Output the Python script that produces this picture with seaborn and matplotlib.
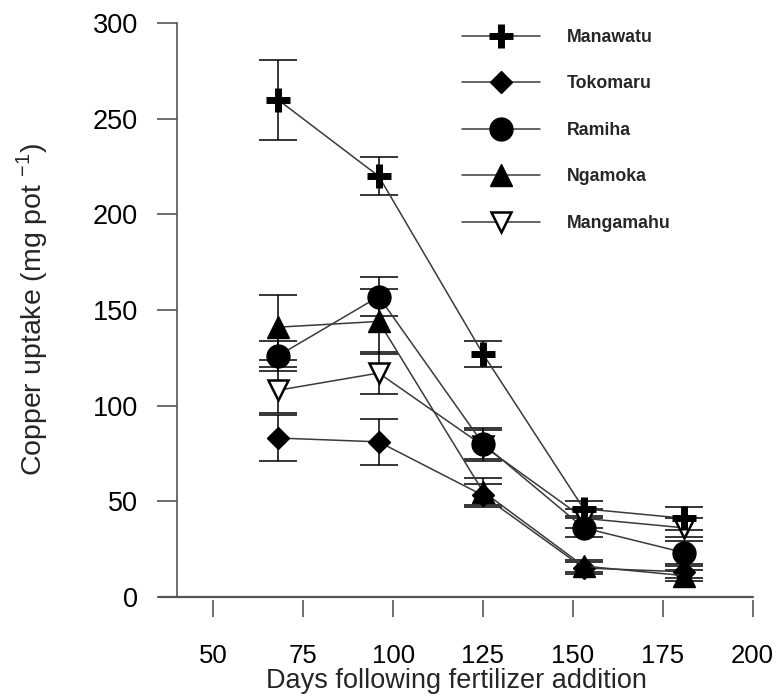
import matplotlib
matplotlib.use("Agg")
import matplotlib.pyplot as plt
import seaborn as sns
import pandas as pd

# Sampling days after fertilizer addition
days = [68, 96, 125, 153, 181]

# Copper uptake (mg pot^-1) and standard errors per soil
manawatu = [260, 220, 127, 46, 41]
manawatu_se = [21, 10, 7, 4, 6]
tokomaru = [83, 81, 53, 15, 13]
tokomaru_se = [12, 12, 6, 3, 3]
ramiha = [126, 157, 80, 36, 23]
ramiha_se = [8, 10, 8, 5, 6]
ngamoka = [141, 144, 55, 16, 11]
ngamoka_se = [17, 17, 7, 3, 3]
mangamahu = [108, 117, 79, 41, 36]
mangamahu_se = [12, 11, 8, 5, 5]

soils = ["Manawatu", "Tokomaru", "Ramiha", "Ngamoka", "Mangamahu"]
values = [manawatu, tokomaru, ramiha, ngamoka, mangamahu]
errors = [manawatu_se, tokomaru_se, ramiha_se, ngamoka_se, mangamahu_se]

x_ticks = [50, 75, 100, 125, 150, 175, 200]
y_ticks = [0, 50, 100, 150, 200, 250, 300]

sns.set_theme(style="ticks")
plt.rcParams["font.family"] = ["Liberation Sans", "DejaVu Sans"]

styles = {
    "Manawatu": dict(marker="+", markersize=17, markeredgewidth=5,
                     markerfacecolor="black", markeredgecolor="black"),
    "Tokomaru": dict(marker="D", markersize=11.5, markeredgewidth=1,
                     markerfacecolor="black", markeredgecolor="black"),
    "Ramiha": dict(marker="o", markersize=16.5, markeredgewidth=1,
                   markerfacecolor="black", markeredgecolor="black"),
    "Ngamoka": dict(marker="^", markersize=16, markeredgewidth=1,
                    markerfacecolor="black", markeredgecolor="black"),
    "Mangamahu": dict(marker="v", markersize=15, markeredgewidth=1.8,
                      markerfacecolor="white", markeredgecolor="black"),
}
# Mangamahu sits beneath the filled markers where points coincide
layer = {"Manawatu": 5, "Tokomaru": 5, "Ramiha": 5, "Ngamoka": 5,
         "Mangamahu": 3}

rows = []
for soil, vals, errs in zip(soils, values, errors):
    for d, v, e in zip(days, vals, errs):
        rows.append({"day": d, "uptake": v, "se": e, "soil": soil})
df = pd.DataFrame(rows)

fig = plt.figure(figsize=(7.81, 6.99), dpi=100)
ax = fig.add_axes([0.204, 0.1464, 0.7598, 0.8203])

for soil in soils:
    sub = df[df["soil"] == soil]
    ax.errorbar(sub["day"], sub["uptake"], yerr=sub["se"], fmt="none",
                ecolor="black", elinewidth=1.1, capsize=13.5, capthick=1.1,
                zorder=2, clip_on=False)
    sns.lineplot(data=sub, x="day", y="uptake", ax=ax, color="#3a3a3a",
                 linewidth=1.1, label=soil, zorder=layer[soil], clip_on=False,
                 **styles[soil])

ax.set_xlim(35, 200)
ax.set_ylim(0, 300)
ax.set_xticks(x_ticks)
ax.set_yticks(y_ticks)
ax.tick_params(axis="both", colors="#555555", labelcolor="black")
ax.tick_params(axis="x", direction="out", length=12.5, width=1.2, pad=19,
               labelsize=18.5)
ax.tick_params(axis="y", direction="out", length=14.4, width=1.2, pad=14,
               labelsize=19.5)

for side in ("top", "right"):
    ax.spines[side].set_visible(False)
ax.spines["left"].set_position(("data", 40))
ax.spines["left"].set_color("#555555")
ax.spines["left"].set_linewidth(1.2)
ax.spines["bottom"].set_position(("outward", 2.5))
ax.spines["bottom"].set_visible(False)
ax.plot([35, 200], [0, 0], color="#555555", linewidth=1.6, clip_on=False,
        zorder=1)

ax.set_xlabel("Days following fertilizer addition", fontsize=19.5, labelpad=0)
ax.set_ylabel(r"Copper uptake (mg pot $^{\mathregular{-1}}$)", fontsize=20.5,
              labelpad=31)

leg = ax.legend(loc="upper left", bbox_to_anchor=(0.495, 1.006), frameon=False,
                prop={"weight": "bold", "size": 12.8}, handlelength=4.4,
                handletextpad=1.5, labelspacing=1.66, borderpad=0)

fig.savefig("out.png", dpi=100, facecolor="white")
